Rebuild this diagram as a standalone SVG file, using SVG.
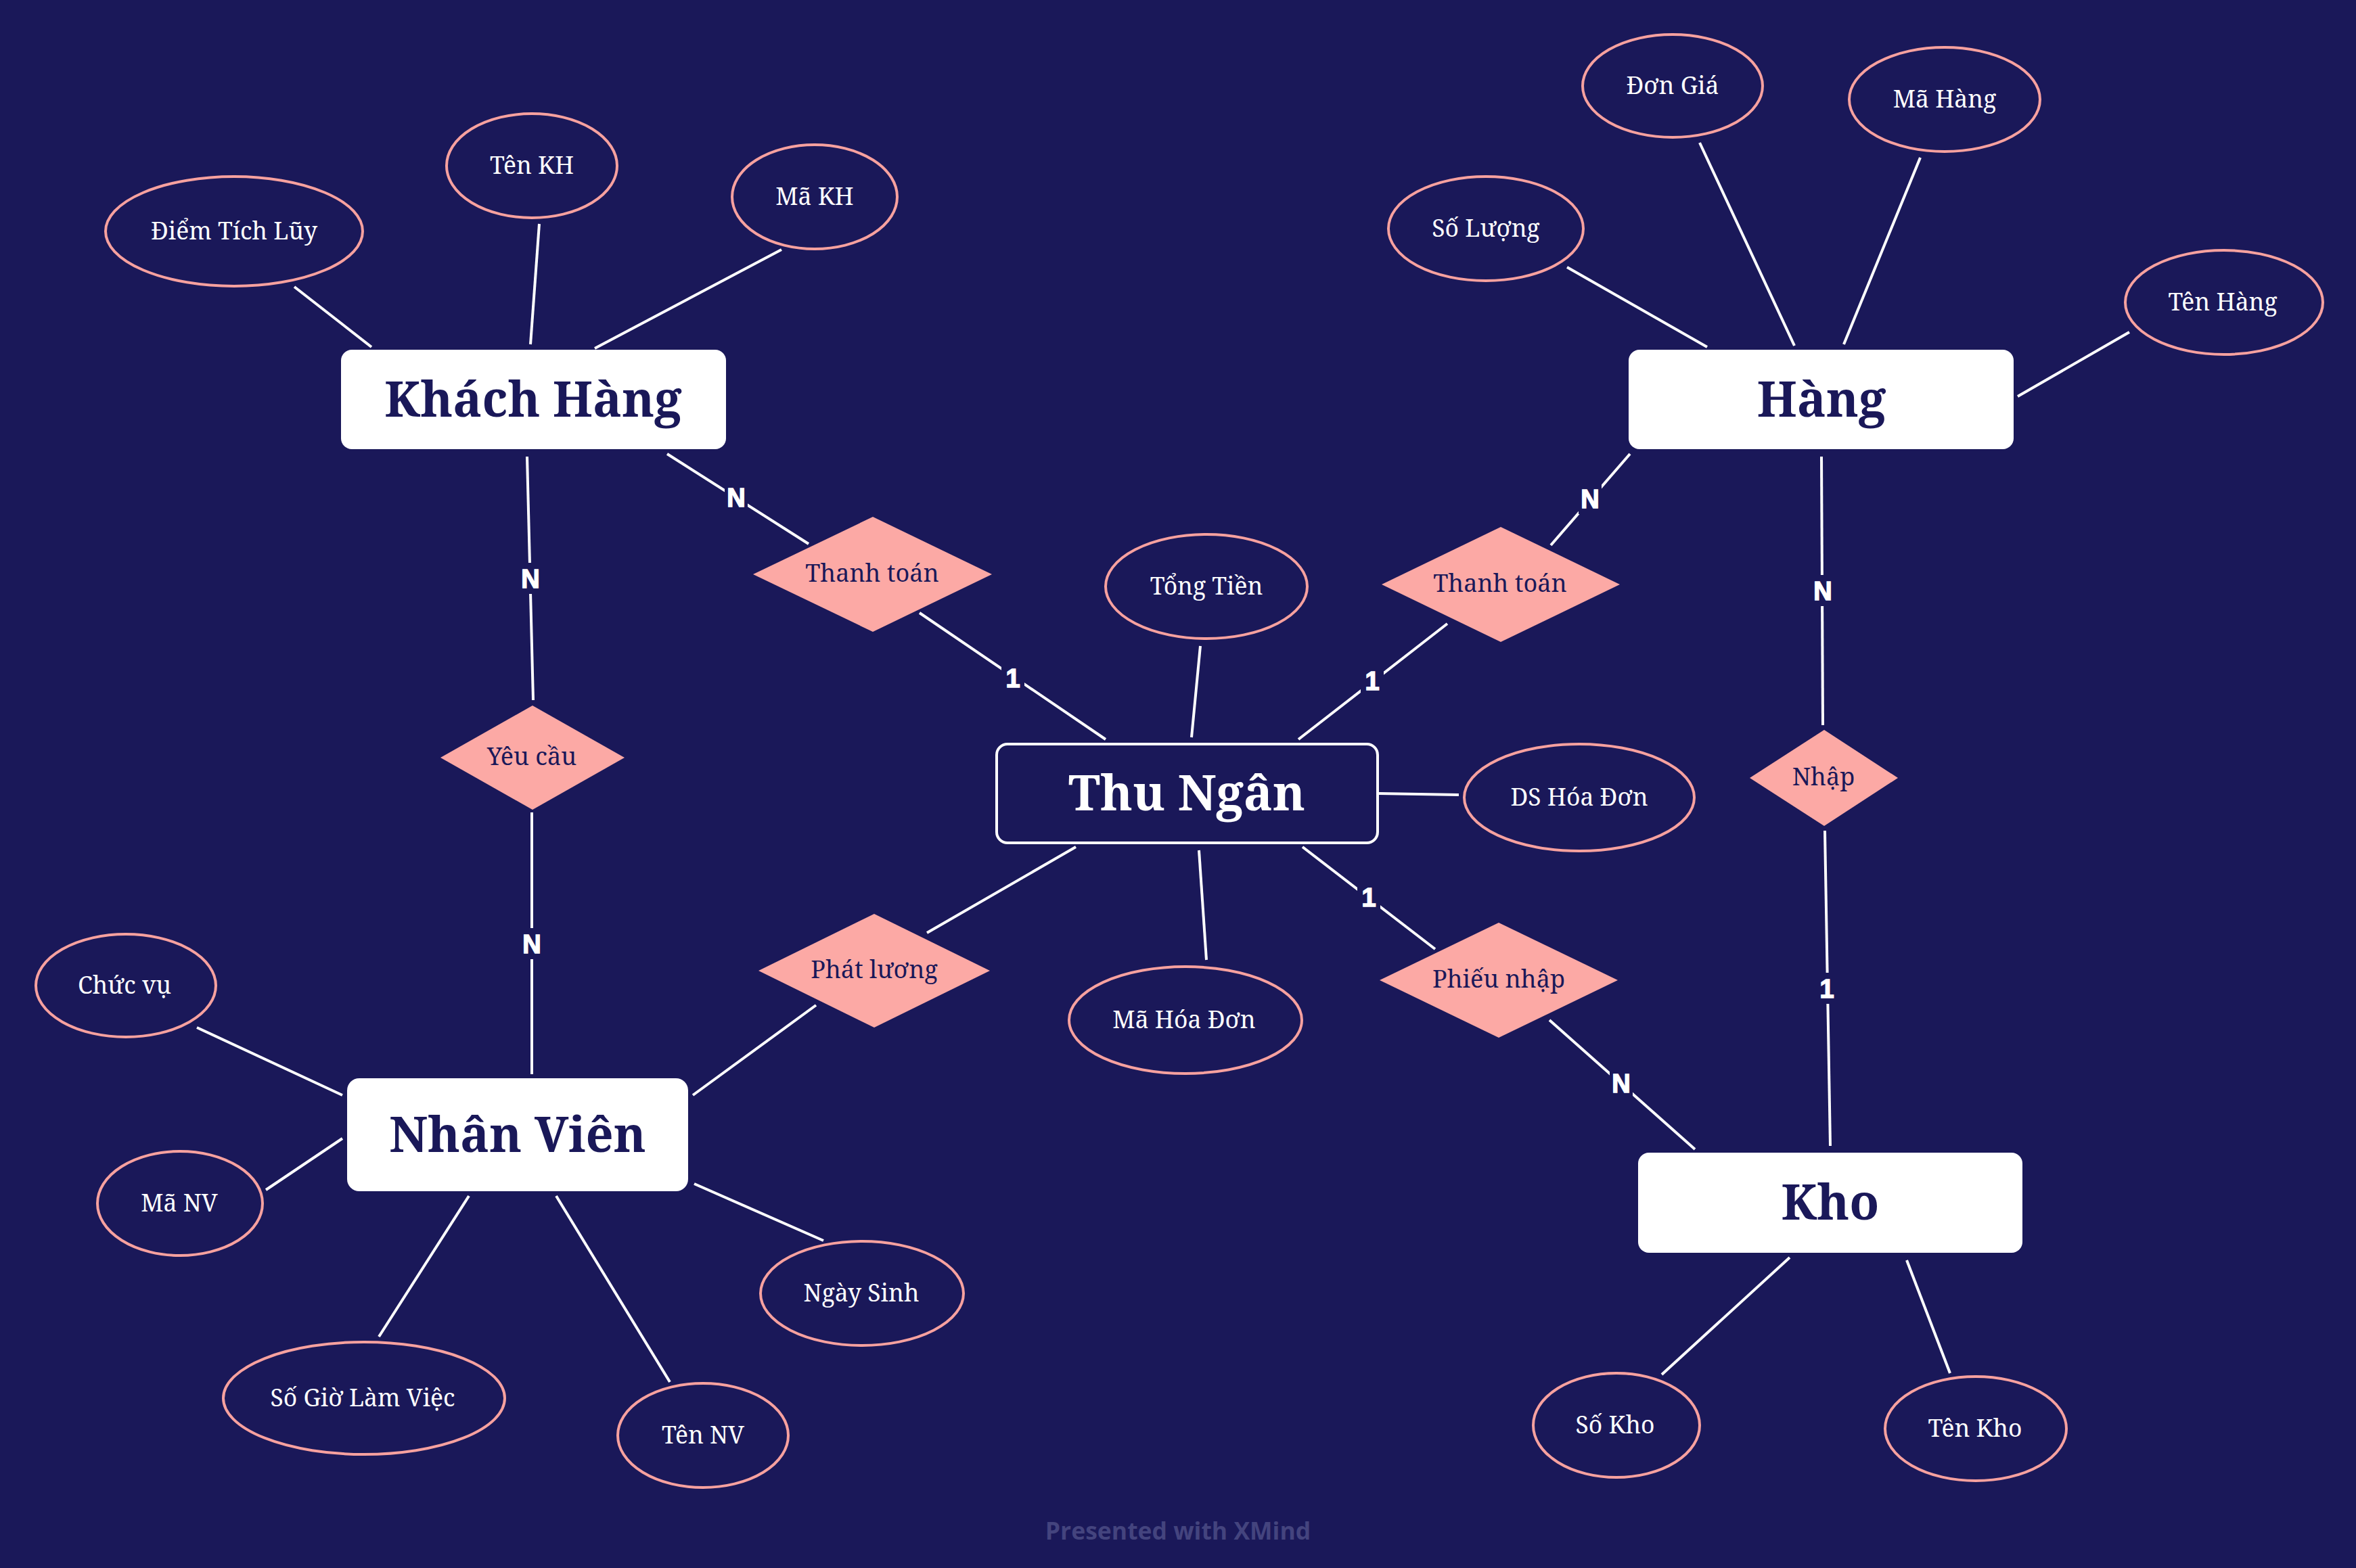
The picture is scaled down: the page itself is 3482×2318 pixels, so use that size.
<svg xmlns="http://www.w3.org/2000/svg" width="3482" height="2318" viewBox="0 0 3482 2318">
<style>
.ent{fill:#ffffff;}
.entc{fill:#1a1859;stroke:#ffffff;stroke-width:4;}
.et{font-family:"Noto Serif","DejaVu Serif",serif;font-weight:bold;font-size:72px;fill:#1a1859;text-anchor:middle;}
.etw{fill:#ffffff;}
.rel{fill:#fca9a5;}
.rt{font-family:"Noto Serif","DejaVu Serif",serif;font-size:36px;fill:#1a1859;text-anchor:middle;}
.att{fill:#1a1859;stroke:#f7a19f;stroke-width:4;}
.at{font-family:"Noto Serif","DejaVu Serif",serif;font-size:35.5px;fill:#ffffff;text-anchor:middle;}
.ln{stroke:#ffffff;stroke-width:4;fill:none;}
.cb{fill:#1a1859;}
.ct{font-family:"Liberation Sans","Open Sans",sans-serif;font-weight:bold;font-size:38px;fill:#ffffff;stroke:#ffffff;stroke-width:1.5;text-anchor:middle;}
.wm{font-family:"Open Sans","Noto Sans",sans-serif;font-weight:bold;font-size:35.5px;fill:#44447e;text-anchor:middle;}
</style>
<rect width="3482" height="2318" fill="#1a1859"/>
<g id="connectors">
<line class="ln" x1="435" y1="424" x2="549" y2="513"/>
<line class="ln" x1="797" y1="331" x2="784" y2="509"/>
<line class="ln" x1="1155" y1="369" x2="879" y2="515"/>
<line class="ln" x1="986" y1="671" x2="1195" y2="804"/>
<line class="ln" x1="779" y1="675" x2="788" y2="1035"/>
<line class="ln" x1="786" y1="1201" x2="786" y2="1588"/>
<line class="ln" x1="1359" y1="906" x2="1634" y2="1093"/>
<line class="ln" x1="1774" y1="955" x2="1761" y2="1090"/>
<line class="ln" x1="1919" y1="1093" x2="2139" y2="922"/>
<line class="ln" x1="2292" y1="806" x2="2409" y2="671"/>
<line class="ln" x1="2692" y1="675" x2="2694" y2="1072"/>
<line class="ln" x1="2697" y1="1228" x2="2705" y2="1694"/>
<line class="ln" x1="2038" y1="1173" x2="2156" y2="1175"/>
<line class="ln" x1="1772" y1="1257" x2="1783" y2="1419"/>
<line class="ln" x1="1590" y1="1252" x2="1370" y2="1379"/>
<line class="ln" x1="1206" y1="1486" x2="1024" y2="1619"/>
<line class="ln" x1="1925" y1="1252" x2="2121" y2="1403"/>
<line class="ln" x1="2290" y1="1508" x2="2505" y2="1699"/>
<line class="ln" x1="2316" y1="395" x2="2523" y2="513"/>
<line class="ln" x1="2512" y1="211" x2="2652" y2="511"/>
<line class="ln" x1="2838" y1="233" x2="2725" y2="509"/>
<line class="ln" x1="3147" y1="491" x2="2982" y2="586"/>
<line class="ln" x1="291" y1="1519" x2="506" y2="1619"/>
<line class="ln" x1="393" y1="1759" x2="506" y2="1683"/>
<line class="ln" x1="693" y1="1768" x2="560" y2="1976"/>
<line class="ln" x1="822" y1="1768" x2="990" y2="2043"/>
<line class="ln" x1="1026" y1="1750" x2="1217" y2="1834"/>
<line class="ln" x1="2645" y1="1859" x2="2456" y2="2032"/>
<line class="ln" x1="2818" y1="1863" x2="2882" y2="2030"/>
<g id="cardinalities">
<rect class="cb" x="1071" y="712" width="34" height="46"/><text class="ct" x="1088" y="749">N</text>
<rect class="cb" x="767" y="832" width="34" height="46"/><text class="ct" x="784" y="869">N</text>
<rect class="cb" x="769" y="1372" width="34" height="46"/><text class="ct" x="786" y="1409">N</text>
<rect class="cb" x="1480" y="979" width="34" height="46"/><text class="ct" x="1497" y="1016">1</text>
<rect class="cb" x="2011" y="983" width="34" height="46"/><text class="ct" x="2028" y="1020">1</text>
<rect class="cb" x="2333" y="714" width="34" height="46"/><text class="ct" x="2350" y="751">N</text>
<rect class="cb" x="2677" y="850" width="34" height="46"/><text class="ct" x="2694" y="887">N</text>
<rect class="cb" x="2683" y="1438" width="34" height="46"/><text class="ct" x="2700" y="1475">1</text>
<rect class="cb" x="2006" y="1303" width="34" height="46"/><text class="ct" x="2023" y="1340">1</text>
<rect class="cb" x="2379" y="1578" width="34" height="46"/><text class="ct" x="2396" y="1615">N</text>
</g>
</g>
<g id="khach-hang"><rect class="ent" x="504" y="517" width="569" height="147" rx="16"/><text class="et" x="788" y="616">Khách Hàng</text></g>
<g id="hang"><rect class="ent" x="2407" y="517" width="569" height="147" rx="16"/><text class="et" x="2692" y="616">Hàng</text></g>
<g id="thu-ngan"><rect class="entc" x="1473" y="1100" width="563" height="146" rx="16"/><text class="et etw" x="1754" y="1198">Thu Ngân</text></g>
<g id="nhan-vien"><rect class="ent" x="513" y="1594" width="504" height="167" rx="18"/><text class="et" x="765" y="1703">Nhân Viên</text></g>
<g id="kho"><rect class="ent" x="2421" y="1704" width="568" height="148" rx="16"/><text class="et" x="2705" y="1803">Kho</text></g>
<g id="thanh-toan-1"><polygon class="rel" points="1113,849 1290,764 1466,849 1290,934"/><text class="rt" x="1289" y="860">Thanh toán</text></g>
<g id="thanh-toan-2"><polygon class="rel" points="2042,864 2218,779 2394,864 2218,949"/><text class="rt" x="2217" y="875">Thanh toán</text></g>
<g id="yeu-cau"><polygon class="rel" points="651,1120 787,1043 923,1120 787,1197"/><text class="rt" x="786" y="1131">Yêu cầu</text></g>
<g id="nhap"><polygon class="rel" points="2586,1150 2696,1079 2805,1150 2696,1221"/><text class="rt" x="2695" y="1161">Nhập</text></g>
<g id="phat-luong"><polygon class="rel" points="1121,1435 1292,1351 1463,1435 1292,1519"/><text class="rt" x="1292" y="1446">Phát lương</text></g>
<g id="phieu-nhap"><polygon class="rel" points="2039,1449 2215,1364 2391,1449 2215,1534"/><text class="rt" x="2215" y="1460">Phiếu nhập</text></g>
<g id="diem-tich-luy"><ellipse class="att" cx="346" cy="342" rx="190" ry="81"/><text class="at" x="346" y="354">Điểm Tích Lũy</text></g>
<g id="ten-kh"><ellipse class="att" cx="786" cy="245" rx="126" ry="77"/><text class="at" x="786" y="257">Tên KH</text></g>
<g id="ma-kh"><ellipse class="att" cx="1204" cy="291" rx="122" ry="77"/><text class="at" x="1204" y="303">Mã KH</text></g>
<g id="don-gia"><ellipse class="att" cx="2472" cy="127" rx="133" ry="76"/><text class="at" x="2472" y="139">Đơn Giá</text></g>
<g id="ma-hang"><ellipse class="att" cx="2874" cy="147" rx="141" ry="77"/><text class="at" x="2874" y="159">Mã Hàng</text></g>
<g id="so-luong"><ellipse class="att" cx="2196" cy="338" rx="144" ry="77"/><text class="at" x="2196" y="350">Số Lượng</text></g>
<g id="ten-hang"><ellipse class="att" cx="3287" cy="447" rx="146" ry="77"/><text class="at" x="3285" y="459">Tên Hàng</text></g>
<g id="tong-tien"><ellipse class="att" cx="1783" cy="867" rx="149" ry="77"/><text class="at" x="1783" y="879">Tổng Tiền</text></g>
<g id="ds-hoa-don"><ellipse class="att" cx="2334" cy="1179" rx="170" ry="79"/><text class="at" x="2334" y="1191">DS Hóa Đơn</text></g>
<g id="ma-hoa-don"><ellipse class="att" cx="1752" cy="1508" rx="172" ry="79"/><text class="at" x="1750" y="1520">Mã Hóa Đơn</text></g>
<g id="chuc-vu"><ellipse class="att" cx="186" cy="1457" rx="133" ry="76"/><text class="at" x="184" y="1469">Chức vụ</text></g>
<g id="ma-nv"><ellipse class="att" cx="266" cy="1779" rx="122" ry="77"/><text class="at" x="265" y="1791">Mã NV</text></g>
<g id="so-gio-lam-viec"><ellipse class="att" cx="538" cy="2067" rx="208" ry="83"/><text class="at" x="536" y="2079">Số Giờ Làm Việc</text></g>
<g id="ten-nv"><ellipse class="att" cx="1039" cy="2122" rx="126" ry="77"/><text class="at" x="1039" y="2134">Tên NV</text></g>
<g id="ngay-sinh"><ellipse class="att" cx="1274" cy="1912" rx="150" ry="77"/><text class="at" x="1273" y="1924">Ngày Sinh</text></g>
<g id="so-kho"><ellipse class="att" cx="2389" cy="2107" rx="123" ry="77"/><text class="at" x="2387" y="2119">Số Kho</text></g>
<g id="ten-kho"><ellipse class="att" cx="2920" cy="2112" rx="134" ry="77"/><text class="at" x="2919" y="2124">Tên Kho</text></g>
<text class="wm" x="1741" y="2276">Presented with XMind</text>
</svg>
